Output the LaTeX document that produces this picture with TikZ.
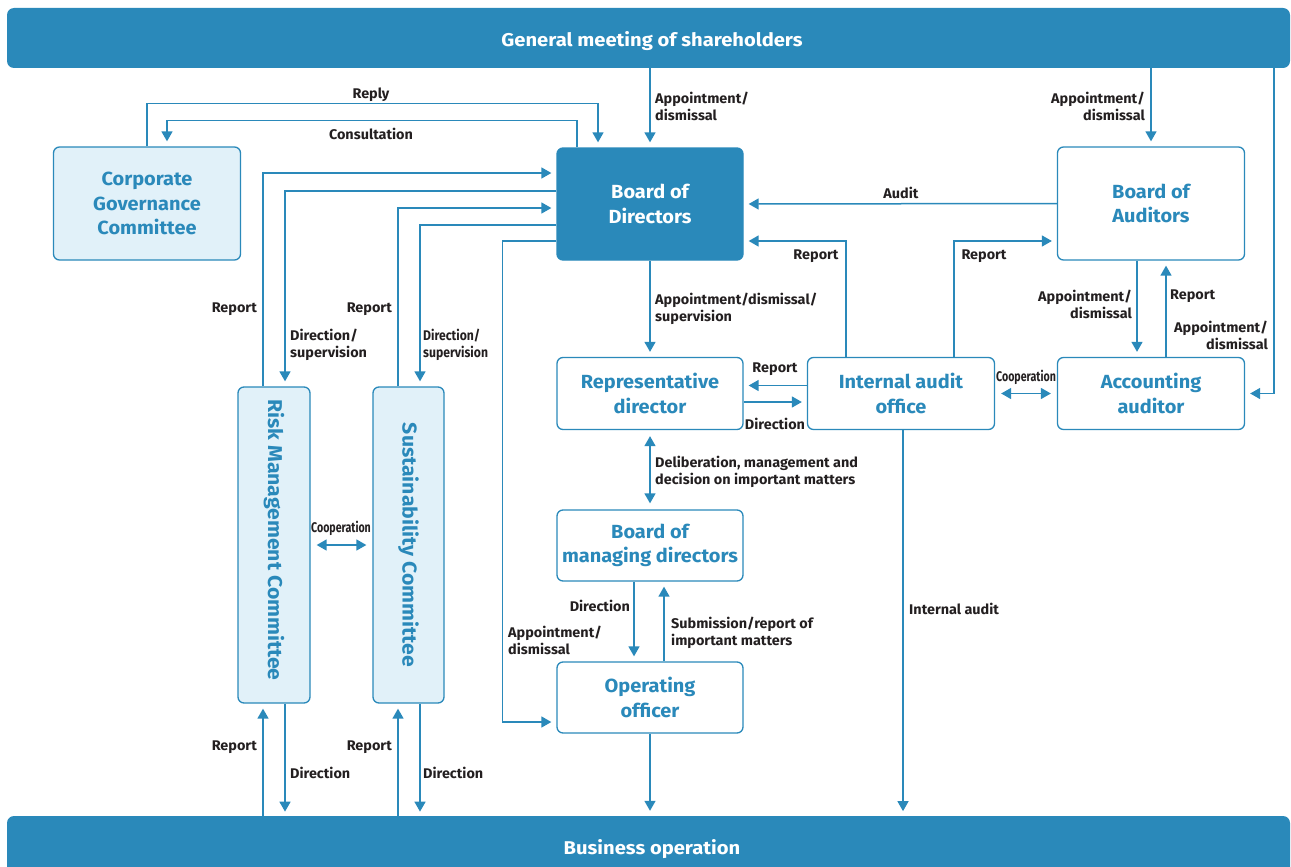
\documentclass[tikz,border=0pt]{standalone}
\usepackage{fontspec}
\setmainfont{Fira Sans}
\newfontfamily\titlefont[FakeStretch=1.09]{Fira Sans}
\newfontfamily\boxfont[FakeStretch=1.05]{Fira Sans}
\newfontfamily\labfont[FakeStretch=1.03]{Fira Sans}
\newfontfamily\condfont[FakeStretch=0.76]{Fira Sans}
\newfontfamily\semicond[FakeStretch=0.87]{Fira Sans}
\newfontfamily\vfont[FakeStretch=1.06]{Fira Sans}
\usetikzlibrary{arrows.meta}
\definecolor{cblue}{RGB}{42,137,186}
\definecolor{cfill}{RGB}{225,241,249}
\definecolor{ctext}{RGB}{35,31,32}
\begin{document}
\begin{tikzpicture}[x=1pt,y=-1pt,
 box/.style={draw=cblue,line width=1.3pt,rounded corners=6pt,fill=white,text=cblue,font=\fontsize{19}{24.5}\selectfont\boxfont\bfseries,align=center,inner sep=0pt},
 lbox/.style={box,fill=cfill},
 dbox/.style={box,fill=cblue,text=white},
 bar/.style={fill=cblue,rounded corners=7pt,inner sep=0pt},
 bartext/.style={text=white,font=\fontsize{18.5}{22}\selectfont\titlefont\bfseries,inner sep=0pt,yshift=-1.5pt},
 vtext/.style={rotate=-90,text=cblue,font=\fontsize{20}{22}\selectfont\vfont\bfseries,inner sep=0pt},
 conn/.style={draw=cblue,line width=1.5pt,-{Triangle[length=10pt,width=11pt]},shorten >=5pt},
 dconn/.style={draw=cblue,line width=1.5pt,{Triangle[length=10pt,width=11pt]}-{Triangle[length=10pt,width=11pt]},shorten >=6pt,shorten <=6pt},
 lab/.style={text=ctext,font=\fontsize{14}{17}\selectfont\labfont\bfseries,inner sep=0pt,align=left,yshift=-1pt},
 clab/.style={lab,font=\fontsize{14}{17}\selectfont\condfont\bfseries},
 slab/.style={lab,font=\fontsize{14}{17}\selectfont\semicond\bfseries},
]
\useasboundingbox (0,0) rectangle (1291,867);

% bars
\node[bar,minimum width=1283,minimum height=60] (gm) at (648.5,38) {};
\node[bartext] (gmt) at (652,40) {General meeting of shareholders};
\node[bar,minimum width=1283,minimum height=64] (bo) at (648.5,848) {};
\node[bartext] (bot) at (652,848) {Business operation};

% boxes
\node[lbox,minimum width=187,minimum height=113] (cgc) at (147,203.5) {Corporate\\Governance\\Committee};
\node[dbox,minimum width=186,minimum height=112] (bod) at (650,204) {Board of\\Directors};
\node[box,minimum width=187,minimum height=113] (boa) at (1151,203.5) {Board of\\Auditors};
\node[box,minimum width=186,minimum height=72] (rd) at (650,393.5) {Representative\\director};
\node[box,minimum width=187,minimum height=72] (iao) at (901,393.5) {Internal audit\\office};
\node[box,minimum width=187,minimum height=72] (aa) at (1151,393.5) {Accounting\\auditor};
\node[box,minimum width=186,minimum height=71] (bmd) at (650,545.5) {Board of\\managing directors};
\node[box,minimum width=186,minimum height=71] (oo) at (650,697.5) {Operating\\officer};
\node[lbox,minimum width=72,minimum height=316] (rmc) at (274,545) {};
\node[vtext] (rmct) at (274,540) {Risk Management Committee};
\node[lbox,minimum width=71,minimum height=316] (sc) at (408.5,545) {};
\node[vtext] (sct) at (408.5,545) {Sustainability Committee};

% connectors top
\draw[conn] (cgc.north) -- ++(0,-43) -| ([xshift=-52]bod.north);
\draw[conn] ([xshift=-73]bod.north) -- ++(0,-27) -| ([xshift=20]cgc.north);
\draw[conn] (gm.south -| bod.north) -- (bod.north);
\draw[conn] (gm.south -| boa.north) -- (boa.north);
\draw[conn] ([xshift=-16]gm.south east) |- (aa.east);
\draw[conn] (boa.west) -- (bod.east);
\draw[conn] ([xshift=-55]iao.north) |- ([yshift=-37]bod.east);
\draw[conn] ([xshift=53]iao.north) |- ([yshift=-37.5]boa.west);
\draw[conn] ([xshift=-14]boa.south) -- ([xshift=-14]aa.north);
\draw[conn] ([xshift=15]aa.north) -- ([xshift=15]boa.south);
\draw[conn] (bod.south) -- (rd.north);
\draw[conn] ([yshift=8]iao.west) -- ([yshift=8]rd.east);
\draw[conn] ([yshift=-8.5]rd.east) -- ([yshift=-8.5]iao.west);
\draw[dconn] (iao.east) -- (aa.west);
\draw[dconn] (rd.south) -- (bmd.north);
\draw[conn] ([xshift=-16]bmd.south) -- ([xshift=-16]oo.north);
\draw[conn] ([xshift=14]oo.north) -- ([xshift=14]bmd.south);
\draw[conn] ([yshift=-37]bod.west) -- ++(-54,0) |- ([yshift=-24.5]oo.west);
% committees
\draw[conn] ([xshift=-11]rmc.north) |- ([yshift=31]bod.west);
\draw[conn] ([yshift=13]bod.west) -| ([xshift=11]rmc.north);
\draw[conn] ([xshift=-10.5]sc.north) |- ([yshift=-4]bod.west);
\draw[conn] ([yshift=-21]bod.west) -| ([xshift=11.5]sc.north);
\draw[dconn] (rmc.east) -- (sc.west);
% bottom
\coordinate (rb1) at (263,828);
\coordinate (rb2) at (398,828);
\draw[conn] (rb1) -- ([xshift=-11]rmc.south);
\draw[conn] ([xshift=11]rmc.south) -- ++(0,113);
\draw[conn] (rb2) -- ([xshift=-10.5]sc.south);
\draw[conn] ([xshift=11.5]sc.south) -- ++(0,113);
\draw[conn] (oo.south) -- (oo.south |- bo.north);
\draw[conn] ([xshift=2]iao.south) -- ++(0,386);

% labels
\node[lab,anchor=center] (l1) at (371,94) {Reply};
\node[lab,anchor=center] (l2) at (371,133) {Consultation};
\node[lab,anchor=west] (l3) at (655,105.5) {Appointment/\\dismissal};
\node[lab,anchor=east,align=right] (l4) at (1145,105.5) {Appointment/\\dismissal};
\node[lab,anchor=center] (l5) at (901,192) {Audit};
\node[lab,anchor=center] (l6) at (816,255) {Report};
\node[lab,anchor=center] (l7) at (984,255) {Report};
\node[lab,anchor=east,align=right] (l8) at (1132,303.5) {Appointment/\\dismissal};
\node[lab,anchor=west] (l9) at (1170,295) {Report};
\node[lab,anchor=east,align=right] (l10) at (1268,334.5) {Appointment/\\dismissal};
\node[lab,anchor=west] (l11) at (655,307.5) {Appointment/dismissal/\\supervision};
\node[lab,anchor=center] (l12) at (775,368) {Report};
\node[lab,anchor=center] (l13) at (775,423) {Direction};
\node[clab,anchor=center] (l14) at (1026,376) {Cooperation};
\node[lab,anchor=west] (l15) at (655,470.5) {Deliberation, management and\\decision on important matters};
\node[lab,anchor=east] (l16) at (630,605) {Direction};
\node[lab,anchor=west] (l17) at (671,631.5) {Submission/report of\\important matters};
\node[lab,anchor=west] (l18) at (508,639.5) {Appointment/\\dismissal};
\node[lab,anchor=east] (l19) at (257,308) {Report};
\node[lab,anchor=west] (l20) at (290,343.5) {Direction/\\supervision};
\node[lab,anchor=east] (l21) at (392,308) {Report};
\node[slab,anchor=west] (l22) at (423,343.5) {Direction/\\supervision};
\node[clab,anchor=center] (l23) at (341,527) {Cooperation};
\node[lab,anchor=east] (l24) at (257,746) {Report};
\node[lab,anchor=west] (l25) at (290,772) {Direction};
\node[lab,anchor=east] (l26) at (392,746) {Report};
\node[lab,anchor=west] (l27) at (423,772) {Direction};
\node[lab,anchor=west] (l28) at (909,608) {Internal audit};
\end{tikzpicture}
\end{document}
